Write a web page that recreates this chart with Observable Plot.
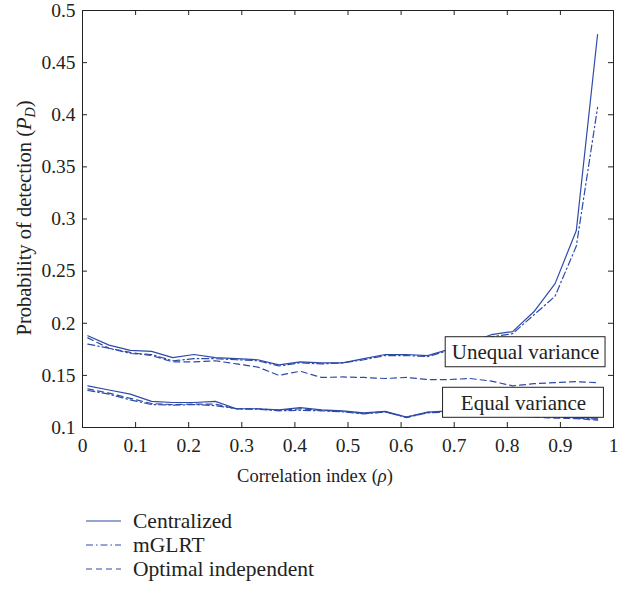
<!DOCTYPE html>
<html><head><meta charset="utf-8">
<script src="https://cdn.jsdelivr.net/npm/d3@7"></script>
<script src="https://cdn.jsdelivr.net/npm/@observablehq/plot@0.6"></script>
<style>
body{margin:0;background:#fff;font-family:"Liberation Serif","DejaVu Serif",serif;color:#222;}
#legend{padding-top:14px;padding-left:86px;}
.row{height:24px;display:flex;align-items:center;font-size:21.5px;}
.row svg{margin-right:12px;}
</style></head><body>
<div id="chart"></div>
<div id="legend"></div>
<script>
// correlation index values (x)
const rho = [0.01,0.05,0.09,0.13,0.17,0.21,0.25,0.29,0.33,0.37,0.41,0.45,0.49,0.53,0.57,0.61,0.65,0.69,0.73,0.77,0.81,0.85,0.89,0.93,0.97];
// Unequal variance
const uneqCentralized = [0.188,0.179,0.174,0.173,0.167,0.170,0.167,0.166,0.165,0.160,0.163,0.162,0.162,0.166,0.170,0.170,0.169,0.175,0.182,0.189,0.192,0.211,0.238,0.289,0.477];
const uneqMGLRT = [0.180,0.176,0.171,0.170,0.164,0.166,0.166,0.165,0.164,0.159,0.162,0.161,0.162,0.165,0.169,0.169,0.168,0.174,0.181,0.187,0.190,0.208,0.226,0.274,0.407];
const uneqOptimal = [0.186,0.176,0.172,0.169,0.163,0.163,0.164,0.161,0.158,0.150,0.154,0.148,0.1485,0.148,0.147,0.148,0.146,0.146,0.147,0.1445,0.140,0.142,0.143,0.144,0.143];
// Equal variance
const eqCentralized = [0.140,0.136,0.132,0.125,0.124,0.124,0.125,0.118,0.118,0.117,0.119,0.117,0.116,0.114,0.1155,0.110,0.1147,0.116,0.115,0.114,0.113,0.112,0.111,0.110,0.109];
const eqMGLRT = [0.1355,0.132,0.1265,0.122,0.1215,0.122,0.121,0.118,0.1175,0.116,0.1165,0.116,0.115,0.113,0.115,0.1095,0.114,0.115,0.114,0.113,0.112,0.111,0.110,0.109,0.108];
const eqOptimal = [0.137,0.133,0.128,0.123,0.122,0.1225,0.1225,0.1178,0.118,0.1165,0.118,0.1165,0.1155,0.1135,0.115,0.110,0.1145,0.1155,0.114,0.113,0.1115,0.110,0.109,0.1085,0.107];

const xTicks = [0,0.1,0.2,0.3,0.4,0.5,0.6,0.7,0.8,0.9,1];
const yTicks = [0.1,0.15,0.2,0.25,0.3,0.35,0.4,0.45,0.5];
const seriesNames = ["Centralized","mGLRT","Optimal independent"];
const dashStyles = [null,"7,3,1.5,3","6,4"];
const boxLabels = ["Unequal variance","Equal variance"];
const boxX1 = [0.684,0.679], boxX2 = [0.985,0.982], boxY1 = [0.1578,0.1093], boxY2 = [0.1866,0.1381];

const color = "#2d4aa8";
const W = 630, H = 495, ML = 82, MR = 17, MT = 10, MB = 68;
const tickLen = 5;
const dx = tickLen / (W - ML - MR);
const dy = tickLen * 0.4 / (H - MT - MB);

const series = [
  [uneqCentralized, eqCentralized],
  [uneqMGLRT, eqMGLRT],
  [uneqOptimal, eqOptimal]
];
const lineMarks = series.map((pair, si) => {
  const rows = [];
  pair.forEach((vals, gi) => vals.forEach((v, i) => rows.push({x: rho[i], y: v, g: gi})));
  return Plot.line(rows, {x: "x", y: "y", z: "g", stroke: color, strokeWidth: 1.2, strokeDasharray: dashStyles[si]});
});
const boxes = boxLabels.map((l, i) => ({label: l, x1: boxX1[i], x2: boxX2[i], y1: boxY1[i], y2: boxY2[i]}));

const plot = Plot.plot({
  width: W, height: H, marginTop: MT, marginLeft: ML, marginRight: MR, marginBottom: MB,
  x: {domain: [0, 1]},
  y: {domain: [0.1, 0.5]},
  style: {fontFamily: "Liberation Serif, serif", fontSize: "19.5px", color: "#222", background: "#fff"},
  marks: [
    ...lineMarks,
    Plot.rect(boxes, {x1: "x1", x2: "x2", y1: "y1", y2: "y2", fill: "white", stroke: "#222", strokeWidth: 1}),
    Plot.text(boxes, {x: d => (d.x1 + d.x2) / 2, y: d => (d.y1 + d.y2) / 2, text: "label", fontSize: 21, fill: "#222"}),
    Plot.ruleX(xTicks, {y1: 0.1, y2: 0.1 + dy, stroke: "#222"}),
    Plot.ruleX(xTicks, {y1: 0.5, y2: 0.5 - dy, stroke: "#222"}),
    Plot.ruleY(yTicks, {x1: 0, x2: dx, stroke: "#222"}),
    Plot.ruleY(yTicks, {x1: 1, x2: 1 - dx, stroke: "#222"}),
    Plot.frame({stroke: "#222", strokeWidth: 1}),
    Plot.axisX(xTicks, {tickSize: 0, tickPadding: 11, label: null, tickFormat: d => String(d)}),
    Plot.axisY(yTicks, {tickSize: 0, tickPadding: 7, label: null, tickFormat: d => String(d)})
  ]
});
document.getElementById("chart").appendChild(plot);

const svg = d3.select(plot);
const xl = svg.append("text").attr("x", 315).attr("y", 482).attr("text-anchor", "middle")
  .attr("font-size", 18.5).attr("fill", "#222").attr("font-family", "Liberation Serif, serif");
xl.append("tspan").text("Correlation index (");
xl.append("tspan").attr("font-style", "italic").text("ρ");
xl.append("tspan").text(")");
const yl = svg.append("text").attr("transform", "translate(31,218) rotate(-90)").attr("text-anchor", "middle")
  .attr("font-size", 20.5).attr("fill", "#222").attr("font-family", "Liberation Serif, serif");
yl.append("tspan").text("Probability of detection (");
yl.append("tspan").attr("font-style", "italic").text("P");
yl.append("tspan").attr("font-style", "italic").attr("font-size", 14).attr("dy", 4).text("D");
yl.append("tspan").attr("dy", -4).text(")");

const legend = d3.select("#legend");
seriesNames.forEach((name, i) => {
  const row = legend.append("div").attr("class", "row");
  const s = row.append("svg").attr("width", 35).attr("height", 10);
  s.append("line").attr("x1", 0).attr("x2", 35).attr("y1", 5).attr("y2", 5)
    .attr("stroke", color).attr("stroke-width", 1.2).attr("stroke-dasharray", dashStyles[i]);
  row.append("span").text(name);
});
</script>
</body></html>
